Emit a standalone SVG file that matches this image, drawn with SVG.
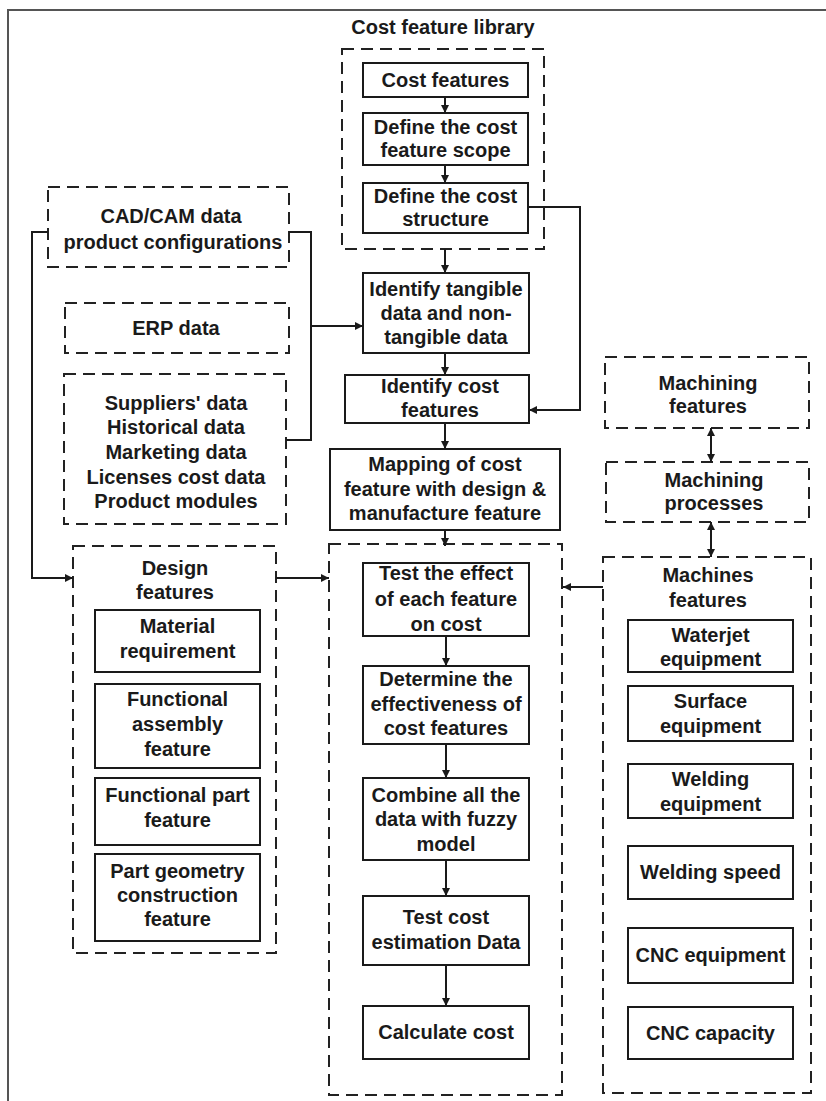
<svg xmlns="http://www.w3.org/2000/svg" width="826" height="1101" viewBox="0 0 826 1101">
<style>
.t{font-family:"Liberation Sans",Arial,sans-serif;font-weight:bold;font-size:20px;fill:#1a1a1a;text-anchor:middle}
.box{fill:#fff;stroke:#1a1a1a;stroke-width:2}
.dash{fill:none;stroke:#222;stroke-width:2;stroke-dasharray:12 7}
.c{fill:none;stroke:#1a1a1a;stroke-width:2}
</style>
<defs>
<marker id="ah" viewBox="0 0 10 10" refX="10" refY="5" markerWidth="9" markerHeight="8" markerUnits="userSpaceOnUse" orient="auto">
<path d="M0,0 L10,5 L0,10 z" fill="#1a1a1a"/>
</marker>
<marker id="as" viewBox="0 0 10 10" refX="0" refY="5" markerWidth="9" markerHeight="8" markerUnits="userSpaceOnUse" orient="auto">
<path d="M10,0 L0,5 L10,10 z" fill="#1a1a1a"/>
</marker>
</defs>
<rect width="826" height="1101" fill="#fff"/>
<path d="M826,10 H8 V1101" fill="none" stroke="#555" stroke-width="2"/>

<g id="cost-feature-library">
<text class="t" x="443" y="34">Cost feature library</text>
<rect class="dash" x="342" y="49" width="202" height="200"/>
</g>
<g id="cost-features"><rect class="box" x="363" y="63" width="165" height="34"/><text class="t" x="445.5" y="87">Cost features</text></g>
<g id="define-scope"><rect class="box" x="363" y="113" width="165" height="52"/><text class="t" x="445.5" y="134">Define the cost</text><text class="t" x="445.5" y="157">feature scope</text></g>
<g id="define-structure"><rect class="box" x="363" y="183" width="165" height="50"/><text class="t" x="445.5" y="203">Define the cost</text><text class="t" x="445.5" y="226">structure</text></g>

<g id="identify-tangible"><rect class="box" x="363" y="273" width="166" height="80"/><text class="t" x="446" y="296">Identify tangible</text><text class="t" x="446" y="320">data and non-</text><text class="t" x="446" y="344">tangible data</text></g>
<g id="identify-cost"><rect class="box" x="345" y="375" width="184" height="48"/><text class="t" x="440" y="393">Identify cost</text><text class="t" x="440" y="417">features</text></g>
<g id="mapping"><rect class="box" x="330" y="449" width="230" height="81"/><text class="t" x="445" y="471">Mapping of cost</text><text class="t" x="445" y="496">feature with design &amp;</text><text class="t" x="445" y="520">manufacture feature</text></g>

<g id="cadcam"><rect class="dash" x="48" y="187" width="241" height="80"/><text class="t" x="171" y="223">CAD/CAM data</text><text class="t" x="173" y="249">product configurations</text></g>
<g id="erp"><rect class="dash" x="65" y="303" width="224" height="50"/><text class="t" x="176" y="335">ERP data</text></g>
<g id="suppliers"><rect class="dash" x="64" y="374" width="222" height="150"/>
<text class="t" x="176" y="410">Suppliers' data</text><text class="t" x="176" y="434">Historical data</text><text class="t" x="176" y="459">Marketing data</text><text class="t" x="176" y="484">Licenses cost data</text><text class="t" x="176" y="508">Product modules</text></g>

<g id="design-features"><rect class="dash" x="73" y="546" width="203" height="407"/><text class="t" x="175" y="575">Design</text><text class="t" x="175" y="599">features</text></g>
<g id="material"><rect class="box" x="95" y="610" width="165" height="62"/><text class="t" x="177.5" y="633">Material</text><text class="t" x="177.5" y="658">requirement</text></g>
<g id="func-assembly"><rect class="box" x="95" y="684" width="165" height="84"/><text class="t" x="177.5" y="706">Functional</text><text class="t" x="177.5" y="731">assembly</text><text class="t" x="177.5" y="756">feature</text></g>
<g id="func-part"><rect class="box" x="95" y="778" width="165" height="67"/><text class="t" x="177.5" y="802">Functional part</text><text class="t" x="177.5" y="827">feature</text></g>
<g id="part-geometry"><rect class="box" x="95" y="854" width="165" height="87"/><text class="t" x="177.5" y="878">Part geometry</text><text class="t" x="177.5" y="902">construction</text><text class="t" x="177.5" y="926">feature</text></g>

<g id="middle-group"><rect class="dash" x="329" y="544" width="233" height="551"/></g>
<g id="test-effect"><rect class="box" x="363" y="563" width="166" height="73"/><text class="t" x="446" y="580">Test the effect</text><text class="t" x="446" y="606">of each feature</text><text class="t" x="446" y="631">on cost</text></g>
<g id="determine"><rect class="box" x="363" y="666" width="166" height="78"/><text class="t" x="446" y="686">Determine the</text><text class="t" x="446" y="711">effectiveness of</text><text class="t" x="446" y="735">cost features</text></g>
<g id="combine"><rect class="box" x="363" y="778" width="166" height="82"/><text class="t" x="446" y="802">Combine all the</text><text class="t" x="446" y="826">data with fuzzy</text><text class="t" x="446" y="851">model</text></g>
<g id="test-cost"><rect class="box" x="363" y="896" width="166" height="69"/><text class="t" x="446" y="924">Test cost</text><text class="t" x="446" y="949">estimation Data</text></g>
<g id="calculate"><rect class="box" x="363" y="1006" width="166" height="53"/><text class="t" x="446" y="1039">Calculate cost</text></g>

<g id="machining-features"><rect class="dash" x="605" y="357" width="204" height="71"/><text class="t" x="708" y="390">Machining</text><text class="t" x="708" y="413">features</text></g>
<g id="machining-processes"><rect class="dash" x="606" y="462" width="203" height="60"/><text class="t" x="714" y="487">Machining</text><text class="t" x="714" y="510">processes</text></g>
<g id="machines-features"><rect class="dash" x="603" y="557" width="208" height="536"/><text class="t" x="708" y="582">Machines</text><text class="t" x="708" y="607">features</text></g>
<g id="waterjet"><rect class="box" x="628" y="620" width="165" height="52"/><text class="t" x="710.5" y="642">Waterjet</text><text class="t" x="710.5" y="666">equipment</text></g>
<g id="surface"><rect class="box" x="628" y="686" width="165" height="55"/><text class="t" x="710.5" y="708">Surface</text><text class="t" x="710.5" y="733">equipment</text></g>
<g id="welding-eq"><rect class="box" x="628" y="764" width="165" height="54"/><text class="t" x="710.5" y="786">Welding</text><text class="t" x="710.5" y="811">equipment</text></g>
<g id="welding-speed"><rect class="box" x="628" y="846" width="165" height="53"/><text class="t" x="710.5" y="879">Welding speed</text></g>
<g id="cnc-eq"><rect class="box" x="628" y="928" width="165" height="55"/><text class="t" x="710.5" y="962">CNC equipment</text></g>
<g id="cnc-cap"><rect class="box" x="628" y="1007" width="165" height="52"/><text class="t" x="710.5" y="1040">CNC capacity</text></g>

<g id="connectors">
<path class="c" d="M445,97 V113" marker-end="url(#ah)"/>
<path class="c" d="M445,165 V183" marker-end="url(#ah)"/>
<path class="c" d="M445,249 V273" marker-end="url(#ah)"/>
<path class="c" d="M445,353 V375" marker-end="url(#ah)"/>
<path class="c" d="M445,423 V449" marker-end="url(#ah)"/>
<path class="c" d="M445,530 V546" marker-end="url(#ah)"/>
<path class="c" d="M528,207 H580 V410 H529" marker-end="url(#ah)"/>
<path class="c" d="M48,232 H32 V578 H73" marker-end="url(#ah)"/>
<path class="c" d="M289,232 H311 V440 H286"/>
<path class="c" d="M311,326 H363" marker-end="url(#ah)"/>
<path class="c" d="M276,578 H329" marker-end="url(#ah)"/>
<path class="c" d="M603,587 H563" marker-end="url(#ah)"/>
<path class="c" d="M711,428 V462" marker-start="url(#as)" marker-end="url(#ah)"/>
<path class="c" d="M711,522 V557" marker-start="url(#as)" marker-end="url(#ah)"/>
<path class="c" d="M446,636 V666" marker-end="url(#ah)"/>
<path class="c" d="M446,744 V778" marker-end="url(#ah)"/>
<path class="c" d="M446,860 V896" marker-end="url(#ah)"/>
<path class="c" d="M446,965 V1006" marker-end="url(#ah)"/>
</g>
</svg>
